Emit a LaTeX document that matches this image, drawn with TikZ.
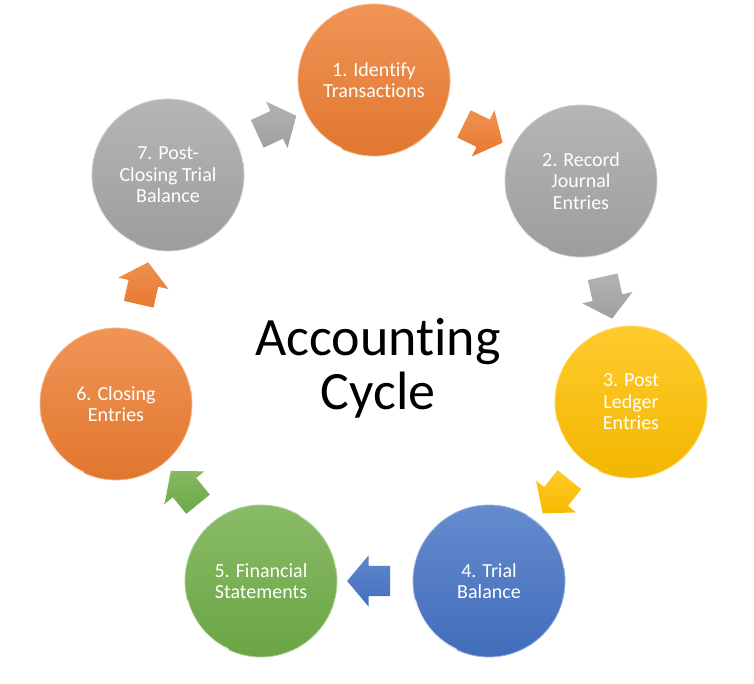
\documentclass[tikz,border=0pt]{standalone}
\usepackage{fontspec}
\setmainfont{Carlito}[Ligatures=NoCommon]
\usetikzlibrary{shapes.arrows}
\definecolor{corange}{HTML}{ED7D31}
\definecolor{cgray}{HTML}{A5A5A5}
\definecolor{cgold}{HTML}{FFC000}
\definecolor{cblue}{HTML}{4472C4}
\definecolor{cgreen}{HTML}{70AD47}
\tikzset{
  stage/.style={circle, minimum size=152pt, inner sep=0pt, align=center, text=white,
    font=\fontsize{20}{21.5}\selectfont, top color=#1!82!white, bottom color=#1!95!black,
    draw=#1!55!white, line width=0.8pt},
  flow/.style={single arrow, sloped, allow upside down, minimum height=43pt,
    inner xsep=0pt, inner ysep=15pt,
    single arrow head extend=10.5pt, single arrow tip angle=100,
    top color=#1!85!white, bottom color=#1!97!black, draw=none},
  gloss/.style={white, opacity=0.75, line width=2pt, line cap=round},
  glosslite/.style={white, opacity=0.45, line width=1.5pt, line cap=round},
  titletext/.style={font=\fontsize{54}{54}\selectfont, align=center, text=black},
}
\begin{document}
\begin{tikzpicture}[x=1pt,y=1pt]
\useasboundingbox (0,0) rectangle (754,683);
\node[stage=corange] (c1) at (374,603) {1. Identify\\Transactions};
\node[stage=cgray]   (c2) at (581,502) {2. Record\\Journal\\Entries};
\node[stage=cgold]   (c3) at (631,281) {3. Post\\Ledger\\Entries};
\node[stage=cblue]   (c4) at (489,102) {4. Trial\\Balance};
\node[stage=cgreen]  (c5) at (261,102) {5. Financial\\Statements};
\node[stage=corange] (c6) at (116,279) {6. Closing\\Entries};
\node[stage=cgray]   (c7) at (168,508) {7. Post-\\Closing Trial\\Balance};
\foreach \c in {c1,c2,c3,c4,c5,c6,c7}{
  \draw[gloss] (\c.195) arc[start angle=195, end angle=245, radius=75pt];
  \draw[glosslite] (\c.10) arc[start angle=10, end angle=60, radius=75pt];
}
\path (c1) -- node[flow=corange]{} (c2);
\path (c2) -- node[flow=cgray]{} (c3);
\path (c3) -- node[flow=cgold]{} (c4);
\path (c4) -- node[flow=cblue]{} (c5);
\path (c5) -- node[flow=cgreen]{} (c6);
\path (c6) -- node[flow=corange]{} (c7);
\path (c7) -- node[flow=cgray]{} (c1);
\node[titletext] (title) at (378,315) {Accounting\\Cycle};
\end{tikzpicture}
\end{document}
